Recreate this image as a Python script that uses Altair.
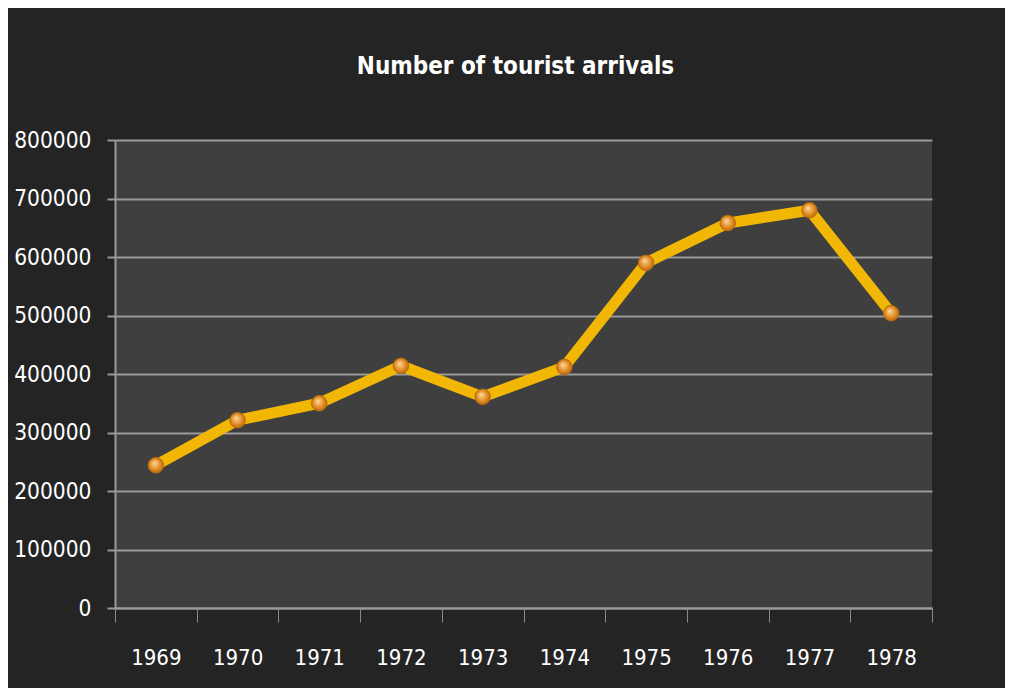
import altair as alt
import pandas as pd

years = ["1969", "1970", "1971", "1972", "1973", "1974", "1975", "1976", "1977", "1978"]
arrivals = [244000, 321000, 350000, 414000, 361000, 412000, 590000, 658000, 680000, 504000]

df = pd.DataFrame({"year": years, "arrivals": arrivals})

FONT = "'DejaVu Sans Condensed', Roboto, sans-serif"

x = alt.X("year:N", sort=years, title=None,
          scale=alt.Scale(type="band", paddingInner=0, paddingOuter=0),
          axis=alt.Axis(tickBand="extent", labelAngle=0, labelFontSize=22, labelColor="#ffffff",
                        labelFont=FONT, labelPadding=25, tickSize=14, tickColor="#8a8a8a",
                        tickWidth=1, domainColor="#9a9a9a", domainWidth=2, grid=False))
y = alt.Y("arrivals:Q", title=None,
          scale=alt.Scale(domain=[0, 800000], nice=False),
          axis=alt.Axis(values=list(range(0, 800001, 100000)), format="d", labelFontSize=22.5,
                        labelColor="#ffffff", labelFont=FONT, labelPadding=16, tickSize=8,
                        tickColor="#9a9a9a", tickWidth=2, domainColor="#9a9a9a", domainWidth=2,
                        grid=True, gridColor="#9a9a9a", gridWidth=2))

line = alt.Chart(df).mark_line(color="#f2b705", strokeWidth=11, strokeJoin="miter").encode(x=x, y=y)
points = alt.Chart(df).mark_point(
    filled=True, size=240, opacity=1,
    fill=alt.Gradient(gradient="radial",
                      stops=[alt.GradientStop(color="#ffd9a0", offset=0),
                             alt.GradientStop(color="#e08a20", offset=0.6),
                             alt.GradientStop(color="#a85a10", offset=1)],
                      x1=0.4, y1=0.35, x2=0.5, y2=0.5, r1=0, r2=0.6),
    stroke="#b86a10", strokeWidth=1
).encode(x=x, y=y)

chart = alt.layer(line, points).properties(
    width=817, height=468,
    autosize=alt.AutoSizeParams(type="none"),
    padding={"left": 107, "top": 132, "right": 73, "bottom": 80},
    title=alt.TitleParams("Number of tourist arrivals", color="#ffffff", fontSize=24,
                          font=FONT, fontWeight="bold", offset=50, anchor="middle", dx=-8),
).configure(background="#242424").configure_view(fill="#3f3f3f", stroke=None)

chart.save("out.html", embed_options={"renderer": "svg", "actions": False})
